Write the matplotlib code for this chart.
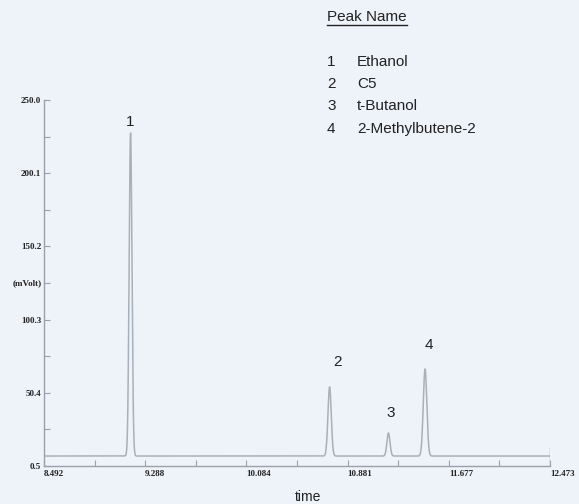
import numpy as np
import matplotlib
matplotlib.use("Agg")
import matplotlib.pyplot as plt
from matplotlib.ticker import FixedLocator, NullFormatter

# ---- data ----
peak_ids = ["1", "2", "3", "4"]
peak_names = ["Ethanol", "C5", "t-Butanol", "2-Methylbutene-2"]
peak_times = [9.173, 10.739, 11.202, 11.490]
peak_heights = [227.5, 54.4, 23.0, 66.6]
peak_sigmas = [0.011, 0.013, 0.012, 0.014]
baseline_level = 7.3
x_ticks = [8.492, 9.288, 10.084, 10.881, 11.677, 12.473]
y_ticks = [0.5, 50.4, 100.3, 150.2, 200.1, 250.0]
x_label = "time"
y_label = "(mVolt)"
legend_title = "Peak Name"

# ---- style ----
W, H = 579, 504
BG = "#eef2f9"
LINE = "#a8b0b9"
AXC = "#9aa1aa"
TXT = "#222222"
sans = ["Liberation Sans Narrow", "Liberation Sans", "DejaVu Sans"]
serif = ["Liberation Serif", "DejaVu Serif"]

fig = plt.figure(figsize=(W / 100, H / 100), dpi=100, facecolor=BG)
ax = fig.add_axes([44 / W, 1 - 466 / H, (550 - 44) / W, (466 - 100) / H])
ax.set_facecolor(BG)

t = np.linspace(x_ticks[0], x_ticks[-1], 6000)
sig = np.full_like(t, baseline_level)
for tc, h, s in zip(peak_times, peak_heights, peak_sigmas):
    sig += (h - baseline_level) * np.exp(-0.5 * ((t - tc) / s) ** 2)
ax.plot(t, sig, color=LINE, lw=1.1)

ax.set_xlim(x_ticks[0], x_ticks[-1])
ax.set_ylim(y_ticks[0], y_ticks[-1])

for sp in ["top", "right"]:
    ax.spines[sp].set_visible(False)
for sp in ["left", "bottom"]:
    ax.spines[sp].set_color(AXC)
    ax.spines[sp].set_linewidth(1.0)

# end marker at right of x axis
ax.axvline(x_ticks[-1], ymin=0, ymax=0.05, color=AXC, lw=1.0)

ax.xaxis.set_major_locator(FixedLocator(x_ticks))
ax.yaxis.set_major_locator(FixedLocator(y_ticks))
x_minor = [(a + b) / 2 for a, b in zip(x_ticks[:-1], x_ticks[1:])]
y_minor = [(a + b) / 2 for a, b in zip(y_ticks[:-1], y_ticks[1:])]
ax.xaxis.set_minor_locator(FixedLocator(x_minor))
ax.yaxis.set_minor_locator(FixedLocator(y_minor))
ax.xaxis.set_minor_formatter(NullFormatter())
ax.yaxis.set_minor_formatter(NullFormatter())
ax.set_xticklabels([f"{v:.3f}" for v in x_ticks])
ax.set_yticklabels([f"{v:.1f}" for v in y_ticks])

ax.tick_params(which="both", direction="in", length=4, width=0.8, color=AXC,
               labelsize=6.5, labelcolor=TXT)
ax.tick_params(axis="x", pad=3)
ax.tick_params(axis="y", pad=2)
for lab in ax.get_xticklabels():
    lab.set_family(serif)
    lab.set_fontweight("bold")
    lab.set_horizontalalignment("left")
for lab in ax.get_yticklabels():
    lab.set_family(serif)
    lab.set_fontweight("bold")

# y axis label at middle minor tick
ax.text(-2 / (550 - 44), (y_minor[2] - y_ticks[0]) / (y_ticks[-1] - y_ticks[0]),
        y_label, transform=ax.transAxes, ha="right", va="center",
        fontsize=6.5, fontweight="bold", family=serif, color=TXT)

# x axis label
fig.text(308 / W, 1 - 497 / H, x_label, ha="center", va="center",
         fontsize=10, family=sans, color=TXT)

# peak labels
label_offsets = [(0, 11), (8, 25), (2, 20), (4, 24)]
for pid, tc, h, off in zip(peak_ids, peak_times, peak_heights, label_offsets):
    ax.annotate(pid, (tc, h), xytext=off, textcoords="offset pixels",
                ha="center", va="center", fontsize=11, family=sans, color=TXT)

# legend block
fs_leg = 11
tt = fig.text(327 / W, 1 - 16.7 / H, legend_title, ha="left", va="center",
              fontsize=fs_leg, family=sans, color=TXT)
fig.canvas.draw()
bb = tt.get_window_extent(renderer=fig.canvas.get_renderer())
uy = 1 - 24.5 / H
fig.add_artist(plt.Line2D([bb.x0 / W, bb.x1 / W], [uy, uy], color=TXT, lw=1.0))
row_y0, row_dy = 61.7, 22.3
for i, (pid, name) in enumerate(zip(peak_ids, peak_names)):
    yy = 1 - (row_y0 + i * row_dy) / H
    fig.text(327 / W, yy, pid, ha="left", va="center", fontsize=fs_leg, family=sans, color=TXT)
    fig.text(357 / W, yy, name, ha="left", va="center", fontsize=fs_leg, family=sans, color=TXT)

fig.savefig("out.png", dpi=100, facecolor=BG)
